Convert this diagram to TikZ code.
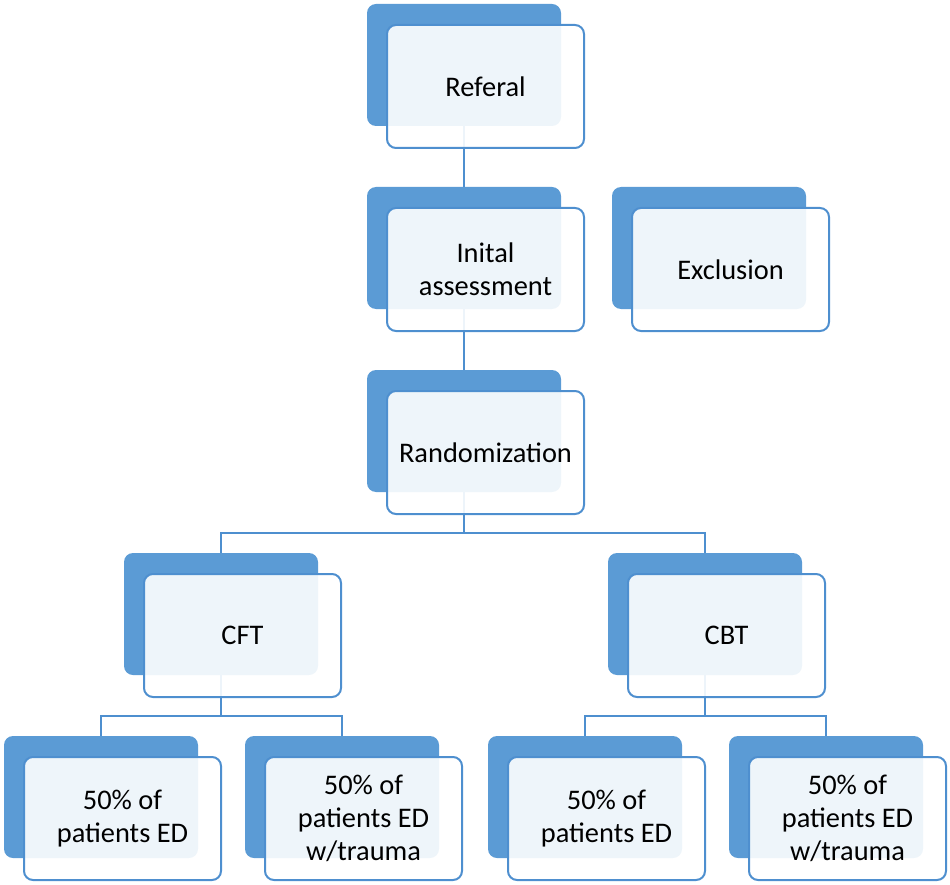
\documentclass[tikz,border=0pt]{standalone}
\usepackage{fontspec}
\setmainfont{Carlito}
\definecolor{boxblue}{HTML}{5B9BD5}
\definecolor{lineblue}{HTML}{4E8FCF}
\pgfdeclarelayer{bg}
\pgfsetlayers{bg,main}
\tikzset{
  backbox/.style={fill=boxblue, draw=none, rounded corners=9pt, minimum width=194pt, minimum height=122pt, inner sep=0pt},
  frontbox/.style={fill=white, fill opacity=0.9, text opacity=1, draw=lineblue, line width=2pt, rounded corners=9pt, minimum width=197pt, minimum height=123pt, inner sep=0pt, align=center, font=\fontsize{28.4}{33}\selectfont, text=black},
  conn/.style={draw=lineblue, line width=2pt}
}
\newcommand{\mybox}[4]{%
  \node[backbox] (#1-b) at (#2+97,#3+61) {};
  \node[frontbox] (#1) at (#2+118.5,#3+82.5) {#4};
}
\begin{document}
\begin{tikzpicture}[x=1pt,y=-1pt]
\useasboundingbox (0,0) rectangle (950,885);
\mybox{ref}{367}{4}{Referal}
\mybox{ini}{367}{187}{Inital\\assessment}
\mybox{exc}{612}{187}{Exclusion}
\mybox{ran}{367}{370}{Randomization}
\mybox{cft}{124}{553}{CFT}
\mybox{cbt}{608}{553}{CBT}
\mybox{la}{4}{736}{50\% of\\patients ED}
\mybox{lb}{245}{736}{50\% of\\patients ED\\w/trauma}
\mybox{ra}{488}{736}{50\% of\\patients ED}
\mybox{rb}{729}{736}{50\% of\\patients ED\\w/trauma}
\begin{pgfonlayer}{bg}
\draw[conn] (ref-b.south) -- (ini-b.north);
\draw[conn] (ini-b.south) -- (ran-b.north);
\draw[conn] (ran-b.south) -- ++(0,41) -| (cft-b.north);
\draw[conn] (ran-b.south) -- ++(0,41) -| (cbt-b.north);
\draw[conn] (cft-b.south) -- ++(0,41) -| (la-b.north);
\draw[conn] (cft-b.south) -- ++(0,41) -| (lb-b.north);
\draw[conn] (cbt-b.south) -- ++(0,41) -| (ra-b.north);
\draw[conn] (cbt-b.south) -- ++(0,41) -| (rb-b.north);
\end{pgfonlayer}
\end{tikzpicture}
\end{document}
